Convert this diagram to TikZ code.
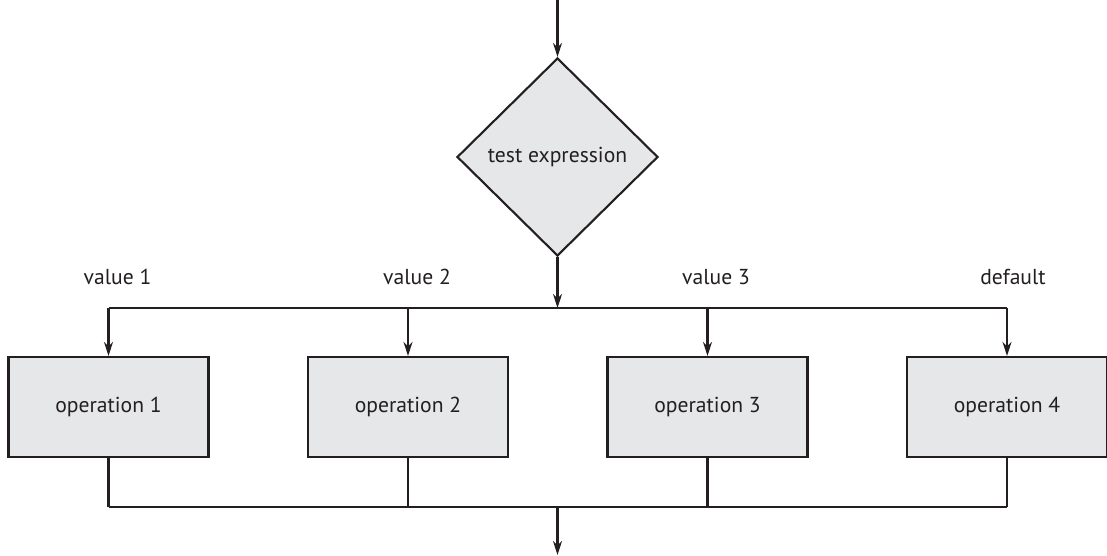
\documentclass[tikz,border=0pt]{standalone}
\usepackage{fontspec}
\setmainfont{PT Sans}
\usepackage{tikz}
\usetikzlibrary{shapes.geometric, arrows.meta, positioning}
\definecolor{boxfill}{HTML}{E6E7E8}
\definecolor{inkline}{HTML}{231F20}
\tikzstyle{decision} = [
  diamond, draw=inkline, fill=boxfill, line width=1.2pt,
  minimum width=4.02cm, minimum height=3.96cm, inner sep=0pt,
  font=\fontsize{12.3}{14}\selectfont, text=inkline
]
\tikzstyle{operation} = [
  rectangle, draw=inkline, fill=boxfill, line width=1.2pt,
  minimum width=4cm, minimum height=2cm,
  font=\fontsize{12.3}{14}\selectfont, text=inkline
]
\tikzstyle{caselabel} = [font=\fontsize{12.3}{14}\selectfont, text=inkline]
\tikzstyle{line} = [draw=inkline, line width=1.2pt]
\tikzstyle{arrow} = [line, -{Stealth[length=2.8mm, width=1.8mm]}]

\begin{document}
\begin{tikzpicture}
  \useasboundingbox (0,0) rectangle (22.14,-11.12);

  % Entry and test
  \coordinate (entry) at (11.15, 0);
  \node[decision] (test) at (11.15, -3.14) {test expression};
  \coordinate (split) at (11.15, -6.16);

  % Cases
  \node[operation] (op1) at (2.17, -8.14) {operation 1};
  \node[operation] (op2) at (8.16, -8.14) {operation 2};
  \node[operation] (op3) at (14.15, -8.14) {operation 3};
  \node[operation] (op4) at (20.14, -8.14) {operation 4};

  % Case labels
  \node[caselabel] (lab1) at (2.35, -5.54) {value 1};
  \node[caselabel] (lab2) at (8.34, -5.54) {value 2};
  \node[caselabel] (lab3) at (14.32, -5.54) {value 3};
  \node[caselabel] (lab4) at (20.26, -5.54) {default};

  % Join and exit
  \coordinate (join) at (11.15, -10.14);
  \coordinate (exit) at (11.15, -11.1);

  % Connections - into the test
  \draw[arrow] (entry) -- (test);
  \draw[arrow] (test) -- (split);

  % Split to cases
  \draw[line] (op1.north |- split) -- (op4.north |- split);
  \foreach \op in {op1, op2, op3, op4}
    \draw[arrow] (\op.north |- split) -- (\op);

  % Cases to join
  \foreach \op in {op1, op2, op3, op4}
    \draw[line] (\op) -- (\op.south |- join);
  \draw[line] (op1.south |- join) -- (op4.south |- join);
  \draw[arrow] (join) -- (exit);

\end{tikzpicture}
\end{document}
